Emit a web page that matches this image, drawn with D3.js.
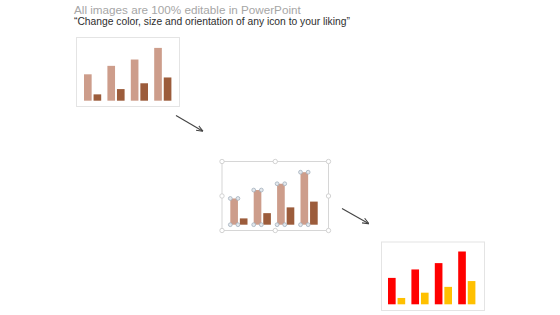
<!DOCTYPE html>
<html><head><meta charset="utf-8">
<script src="https://cdn.jsdelivr.net/npm/d3@7"></script>
<style>html,body{margin:0;padding:0;background:#fff;}svg{display:block;}</style>
</head><body>
<svg id="c" width="560" height="315"></svg>
<script>
// ---- data ----
const categories = ["Cat 1", "Cat 2", "Cat 3", "Cat 4"];
const series = ["Series 1", "Series 2"];
const series1 = [2.5, 3.3, 3.9, 5.0];
const series2 = [0.6, 1.1, 1.65, 2.2];
const titleText = "All images are 100% editable in PowerPoint";
const subtitleText = "\u201CChange color, size and orientation of any icon to your liking\u201D";

// ---- layout / styles ----
const panels = [
  {frame:[76,37,179,106], range:[80.9,174.5], base:100.7, top:47.9, colors:["#cd9d8b","#9c5c3b"], frameColor:"#e4e4e4", selected:false},
  {frame:[221.5,161,328,230], range:[227.2,320.8], base:224.7, top:172.2, colors:["#cd9d8b","#9c5c3b"], frameColor:"#d6d6d6", selected:true},
  {frame:[381,241.5,484,310], range:[384.9,478.5], base:304.3, top:251.5, colors:["#ff0000","#ffc000"], frameColor:"#e4e4e4", selected:false}
];

const svg = d3.select("#c");

svg.append("text").attr("x",74).attr("y",14).attr("font-family","Liberation Sans, Arial, sans-serif")
  .attr("font-size",11.7).attr("fill","#a6a6a6").text(titleText);
svg.append("text").attr("x",74).attr("y",25).attr("font-family","Liberation Sans, Arial, sans-serif")
  .attr("font-size",10.3).attr("fill","#2e2e2e").text(subtitleText);

const data = categories.map((c,i)=>({cat:c, values:[series1[i], series2[i]]}));

panels.forEach(p=>{
  const g = svg.append("g");
  const [fx0,fy0,fx1,fy1] = p.frame;
  g.append("rect").attr("x",fx0+0.5).attr("y",fy0+0.5).attr("width",fx1-fx0).attr("height",fy1-fy0)
    .attr("fill","#fff").attr("stroke",p.frameColor).attr("stroke-width",1);

  const x0 = d3.scaleBand().domain(categories).range(p.range).paddingInner(0.265).paddingOuter(0.1325);
  const x1 = d3.scaleBand().domain(series).range([0, x0.bandwidth()]).paddingInner(0.2).paddingOuter(0);
  const y = d3.scaleLinear().domain([0,5]).range([p.base, p.top]);

  const grp = g.selectAll("g.cat").data(data).join("g").attr("transform",d=>`translate(${x0(d.cat)},0)`);
  grp.selectAll("rect").data(d=>d.values.map((v,i)=>({s:series[i], v, i})))
    .join("rect")
    .attr("x",d=>x1(d.s)).attr("width",x1.bandwidth())
    .attr("y",d=>y(d.v)).attr("height",d=>y(0)-y(d.v))
    .attr("fill",d=>p.colors[d.i]);

  if(p.selected){
    const mx=(fx0+fx1)/2, my=(fy0+fy1)/2;
    const fh = [[fx0,fy0],[mx,fy0],[fx1,fy0],[fx0,my],[fx1,my],[fx0,fy1],[mx,fy1],[fx1,fy1]].map(h=>({x:h[0]+0.5,y:h[1]+0.5}));
    g.selectAll("circle.fh").data(fh).join("circle").attr("class","fh")
      .attr("cx",d=>d.x).attr("cy",d=>d.y).attr("r",2.2)
      .attr("fill","#fff").attr("stroke","#c8c8c8").attr("stroke-width",0.8);
    const bh = [];
    data.forEach(d=>{
      const bx = x0(d.cat)+x1(series[0]);
      const bw = x1.bandwidth();
      const ty = y(d.values[0]);
      bh.push({x:bx,y:ty},{x:bx+bw,y:ty},{x:bx,y:y(0)},{x:bx+bw,y:y(0)});
    });
    g.selectAll("circle.bh").data(bh).join("circle").attr("class","bh")
      .attr("cx",d=>d.x).attr("cy",d=>d.y).attr("r",1.9)
      .attr("fill","#e3e8ed").attr("stroke","#a3b0bd").attr("stroke-width",0.8);
  }
});

// arrows
const defs = svg.append("defs");
defs.append("marker").attr("id","ah").attr("viewBox","0 0 10 10").attr("refX",9).attr("refY",5)
  .attr("markerWidth",6).attr("markerHeight",6).attr("orient","auto-start-reverse")
  .append("path").attr("d","M0,1 L10,5 L0,9").attr("fill","none").attr("stroke","#444").attr("stroke-width",1.6);
const arrows = [[176,115.5,202.5,131],[342,208.5,368.5,223.5]];
svg.selectAll("line.arr").data(arrows).join("line").attr("class","arr")
  .attr("x1",d=>d[0]).attr("y1",d=>d[1]).attr("x2",d=>d[2]).attr("y2",d=>d[3])
  .attr("stroke","#444").attr("stroke-width",1.1).attr("marker-end","url(#ah)");
</script>
</body></html>
